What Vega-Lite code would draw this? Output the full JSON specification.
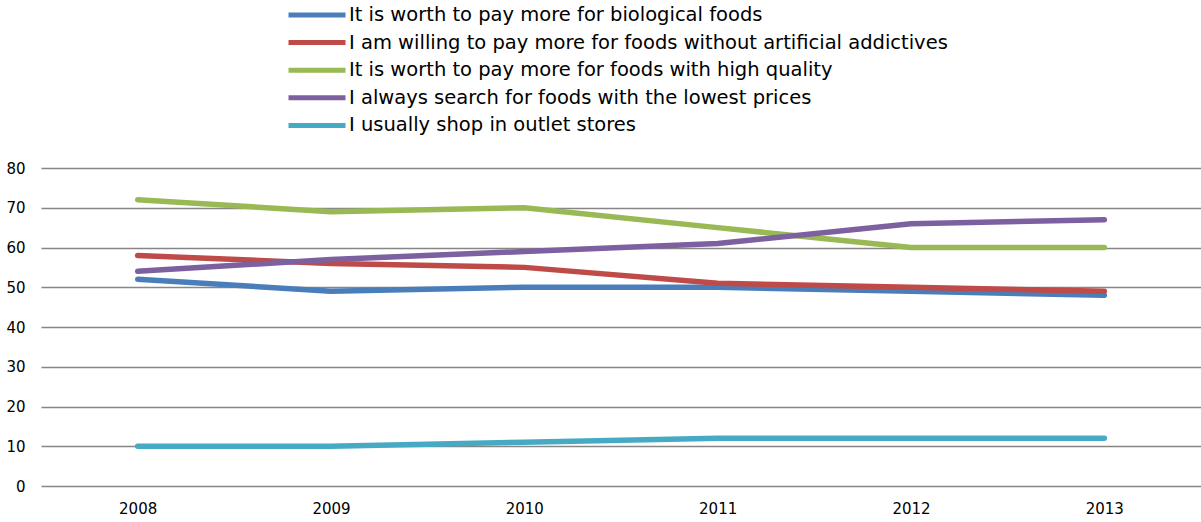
{
  "$schema": "https://vega.github.io/schema/vega-lite/v6.json",
  "width": 1160,
  "height": 318,
  "autosize": "none",
  "padding": {"left": 41, "top": 168, "right": 0, "bottom": 36},
  "background": "white",
  "config": {
    "view": {"stroke": null},
    "font": "DejaVu Sans"
  },
  "data": {
    "values": [
      {"year": "2008", "series": "It is worth to pay more for biological foods", "value": 52},
      {"year": "2009", "series": "It is worth to pay more for biological foods", "value": 49},
      {"year": "2010", "series": "It is worth to pay more for biological foods", "value": 50},
      {"year": "2011", "series": "It is worth to pay more for biological foods", "value": 50},
      {"year": "2012", "series": "It is worth to pay more for biological foods", "value": 49},
      {"year": "2013", "series": "It is worth to pay more for biological foods", "value": 48},
      {"year": "2008", "series": "I am willing to pay more for foods without artificial addictives", "value": 58},
      {"year": "2009", "series": "I am willing to pay more for foods without artificial addictives", "value": 56},
      {"year": "2010", "series": "I am willing to pay more for foods without artificial addictives", "value": 55},
      {"year": "2011", "series": "I am willing to pay more for foods without artificial addictives", "value": 51},
      {"year": "2012", "series": "I am willing to pay more for foods without artificial addictives", "value": 50},
      {"year": "2013", "series": "I am willing to pay more for foods without artificial addictives", "value": 49},
      {"year": "2008", "series": "It is worth to pay more for foods with high quality", "value": 72},
      {"year": "2009", "series": "It is worth to pay more for foods with high quality", "value": 69},
      {"year": "2010", "series": "It is worth to pay more for foods with high quality", "value": 70},
      {"year": "2011", "series": "It is worth to pay more for foods with high quality", "value": 65},
      {"year": "2012", "series": "It is worth to pay more for foods with high quality", "value": 60},
      {"year": "2013", "series": "It is worth to pay more for foods with high quality", "value": 60},
      {"year": "2008", "series": "I always search for foods with the lowest prices", "value": 54},
      {"year": "2009", "series": "I always search for foods with the lowest prices", "value": 57},
      {"year": "2010", "series": "I always search for foods with the lowest prices", "value": 59},
      {"year": "2011", "series": "I always search for foods with the lowest prices", "value": 61},
      {"year": "2012", "series": "I always search for foods with the lowest prices", "value": 66},
      {"year": "2013", "series": "I always search for foods with the lowest prices", "value": 67},
      {"year": "2008", "series": "I usually shop in outlet stores", "value": 10},
      {"year": "2009", "series": "I usually shop in outlet stores", "value": 10},
      {"year": "2010", "series": "I usually shop in outlet stores", "value": 11},
      {"year": "2011", "series": "I usually shop in outlet stores", "value": 12},
      {"year": "2012", "series": "I usually shop in outlet stores", "value": 12},
      {"year": "2013", "series": "I usually shop in outlet stores", "value": 12}
    ]
  },
  "mark": {"type": "line", "strokeWidth": 5.5, "strokeCap": "round", "strokeJoin": "round"},
  "encoding": {
    "x": {
      "field": "year",
      "type": "ordinal",
      "scale": {"type": "point", "padding": 0.5},
      "axis": {
        "title": null,
        "labelAngle": 0,
        "domain": false,
        "ticks": false,
        "grid": false,
        "labelFontSize": 15,
        "labelColor": "#000000",
        "labelPadding": 15
      }
    },
    "y": {
      "field": "value",
      "type": "quantitative",
      "scale": {"domain": [0, 80], "nice": false},
      "axis": {
        "title": null,
        "values": [0, 10, 20, 30, 40, 50, 60, 70, 80],
        "domain": false,
        "ticks": false,
        "grid": true,
        "gridColor": "#868686",
        "gridWidth": 1.5,
        "labelFontSize": 15,
        "labelColor": "#000000",
        "labelPadding": 16
      }
    },
    "color": {
      "field": "series",
      "type": "nominal",
      "scale": {
        "domain": [
          "It is worth to pay more for biological foods",
          "I am willing to pay more for foods without artificial addictives",
          "It is worth to pay more for foods with high quality",
          "I always search for foods with the lowest prices",
          "I usually shop in outlet stores"
        ],
        "range": ["#4a7ebb", "#be4b48", "#98b954", "#7d60a0", "#46aac5"]
      },
      "legend": {
        "title": null,
        "orient": "none",
        "legendX": 264,
        "legendY": -165,
        "symbolType": "M-3,0H3",
        "symbolSize": 361,
        "symbolStrokeWidth": 5,
        "symbolOffset": 0,
        "labelFontSize": 19.5,
        "labelColor": "#000000",
        "labelLimit": 800,
        "labelOffset": 20,
        "rowPadding": 5.6
      }
    }
  }
}
